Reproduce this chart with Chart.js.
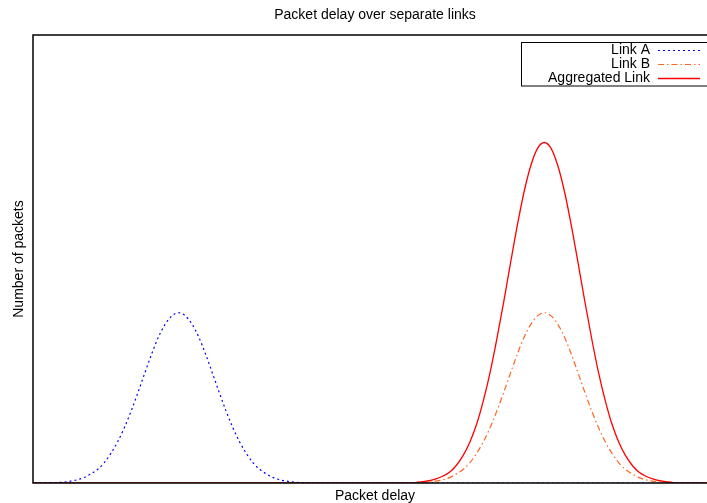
<!DOCTYPE html>
<html>
<head>
<meta charset="utf-8">
<script src="https://cdn.jsdelivr.net/npm/chart.js@4"></script>
<style>
  html, body { margin: 0; padding: 0; background: #fff; overflow: hidden; }
  #wrap { width: 717px; height: 503px; }
</style>
</head>
<body>
<div id="wrap"><canvas id="grafico" width="717" height="503"></canvas></div>
<script>
// packet delay (x), one sample per unit
const delays = [
  0, 1, 2, 3, 4, 5, 6, 7, 8, 9,
  10, 11, 12, 13, 14, 15, 16, 17, 18, 19,
  20, 21, 22, 23, 24, 25, 26, 27, 28, 29,
  30, 31, 32, 33, 34, 35, 36, 37, 38, 39,
  40, 41, 42, 43, 44, 45, 46, 47, 48, 49,
  50, 51, 52, 53, 54, 55, 56, 57, 58, 59,
  60, 61, 62, 63, 64, 65, 66, 67, 68, 69,
  70, 71, 72, 73, 74, 75, 76, 77, 78, 79,
  80, 81, 82, 83, 84, 85, 86, 87, 88, 89,
  90, 91, 92, 93, 94, 95, 96, 97, 98, 99,
  100, 101, 102
];

const linkA = [
  0, 0, 0, 0.1, 0.1, 0.2, 0.4, 0.7, 1.2, 2.0,
  3.0, 4.5, 6.6, 9.2, 12.4, 16.1, 20.2, 24.5, 28.7, 32.5,
  35.4, 37.3, 38.0, 37.3, 35.4, 32.5, 28.7, 24.5, 20.2, 16.1,
  12.4, 9.2, 6.6, 4.5, 3.0, 2.0, 1.2, 0.7, 0.4, 0.2,
  0.1, 0.1, 0, 0, 0, 0, 0, 0, 0, 0,
  0, 0, 0, 0, 0, 0, 0, 0, 0, 0,
  0, 0, 0, 0, 0, 0, 0, 0, 0, 0,
  0, 0, 0, 0, 0, 0, 0, 0, 0, 0,
  0, 0, 0, 0, 0, 0, 0, 0, 0, 0,
  0, 0, 0, 0, 0, 0, 0, 0, 0, 0,
  0, 0, 0
];

const linkB = [
  0, 0, 0, 0, 0, 0, 0, 0, 0, 0,
  0, 0, 0, 0, 0, 0, 0, 0, 0, 0,
  0, 0, 0, 0, 0, 0, 0, 0, 0, 0,
  0, 0, 0, 0, 0, 0, 0, 0, 0, 0,
  0, 0, 0, 0, 0, 0, 0, 0, 0, 0,
  0, 0, 0, 0, 0, 0, 0, 0.1, 0.1, 0.2,
  0.4, 0.7, 1.2, 2.0, 3.0, 4.5, 6.6, 9.2, 12.4, 16.1,
  20.2, 24.5, 28.7, 32.5, 35.4, 37.3, 38.0, 37.3, 35.4, 32.5,
  28.7, 24.5, 20.2, 16.1, 12.4, 9.2, 6.6, 4.5, 3.0, 2.0,
  1.2, 0.7, 0.4, 0.2, 0.1, 0.1, 0, 0, 0, 0,
  0, 0, 0
];

const aggregated = [
  0, 0, 0, 0, 0, 0, 0, 0, 0, 0,
  0, 0, 0, 0, 0, 0, 0, 0, 0, 0,
  0, 0, 0, 0, 0, 0, 0, 0, 0, 0,
  0, 0, 0, 0, 0, 0, 0, 0, 0, 0,
  0, 0, 0, 0, 0, 0, 0, 0, 0, 0,
  0, 0, 0, 0, 0, 0, 0, 0.1, 0.3, 0.5,
  0.9, 1.5, 2.4, 3.9, 6.1, 9.1, 13.1, 18.4, 24.7, 32.2,
  40.4, 49.0, 57.4, 64.9, 70.8, 74.7, 76.0, 74.7, 70.8, 64.9,
  57.4, 49.0, 40.4, 32.2, 24.7, 18.4, 13.1, 9.1, 6.1, 3.9,
  2.4, 1.5, 0.9, 0.5, 0.3, 0.1, 0, 0, 0, 0,
  0, 0, 0
];

const FONT = 'Liberation Sans, Arial, Helvetica, sans-serif';

function pontos(valores) {
  return delays.map((d, i) => ({ x: d, y: valores[i] }));
}

// frame around the plot area (gnuplot style border)
const moldura = {
  id: 'moldura',
  afterDatasetsDraw(chart) {
    const { ctx, chartArea: a } = chart;
    ctx.save();
    ctx.strokeStyle = '#000';
    ctx.lineWidth = 1.5;
    ctx.strokeRect(a.left, a.top, a.right - a.left, a.bottom - a.top);
    ctx.restore();
  }
};

// legend: text right aligned, line sample on the right, boxed
const legenda = {
  id: 'legenda',
  afterDraw(chart) {
    const { ctx } = chart;
    const sets = chart.data.datasets;
    const boxLeft = 521, boxTop = 42, boxBottom = 85.5, boxRight = 712;
    ctx.save();
    ctx.fillStyle = '#fff';
    ctx.fillRect(boxLeft, boxTop, boxRight - boxLeft, boxBottom - boxTop);
    ctx.strokeStyle = '#000';
    ctx.lineWidth = 1;
    ctx.strokeRect(boxLeft + 0.5, boxTop + 0.5, boxRight - boxLeft, boxBottom - boxTop);
    ctx.font = '14px ' + FONT;
    ctx.textAlign = 'right';
    ctx.textBaseline = 'middle';
    sets.forEach((ds, i) => {
      const y = 50 + i * 14;
      ctx.fillStyle = '#000';
      ctx.fillText(ds.label, 650, y);
      ctx.strokeStyle = ds.borderColor;
      ctx.lineWidth = ds.borderWidth;
      ctx.setLineDash(ds.borderDash || []);
      ctx.beginPath();
      ctx.moveTo(658, y + 0.5);
      ctx.lineTo(700, y + 0.5);
      ctx.stroke();
    });
    ctx.restore();
  }
};

new Chart(document.getElementById('grafico').getContext('2d'), {
  type: 'line',
  data: {
    datasets: [
      {
        label: 'Link A',
        data: pontos(linkA),
        borderColor: '#0000ff',
        borderWidth: 1.2,
        borderDash: [2, 3]
      },
      {
        label: 'Link B',
        data: pontos(linkB),
        borderColor: '#ff6622',
        borderWidth: 1.2,
        borderDash: [6, 3, 1.5, 3]
      },
      {
        label: 'Aggregated Link',
        data: pontos(aggregated),
        borderColor: '#ff0000',
        borderWidth: 1.3
      }
    ]
  },
  options: {
    responsive: false,
    animation: false,
    layout: { padding: 0 },
    elements: {
      point: { radius: 0 },
      line: { cubicInterpolationMode: 'monotone', fill: false }
    },
    plugins: {
      legend: { display: false },
      tooltip: { enabled: false },
      title: {
        display: true,
        text: 'Packet delay over separate links',
        fullSize: false,
        color: '#000',
        font: { family: FONT, size: 14, weight: 'normal' },
        padding: { top: 6.3, bottom: 11.9 }
      }
    },
    scales: {
      x: {
        type: 'linear',
        min: 0.5,
        max: 101.5,
        grid: { display: false, drawTicks: false, tickLength: 0 },
        ticks: { display: false },
        border: { display: false },
        title: {
          display: true,
          text: 'Packet delay',
          color: '#000',
          font: { family: FONT, size: 14 },
          padding: { top: 4.6, bottom: -1.4 }
        }
      },
      y: {
        min: 0,
        max: 100,
        grid: { display: false, drawTicks: false, tickLength: 0 },
        ticks: { display: false },
        border: { display: false },
        title: {
          display: true,
          text: 'Number of packets',
          color: '#000',
          font: { family: FONT, size: 14 },
          padding: { top: 10.6, bottom: 5.6 }
        }
      }
    }
  },
  plugins: [moldura, legenda]
});
</script>
</body>
</html>
